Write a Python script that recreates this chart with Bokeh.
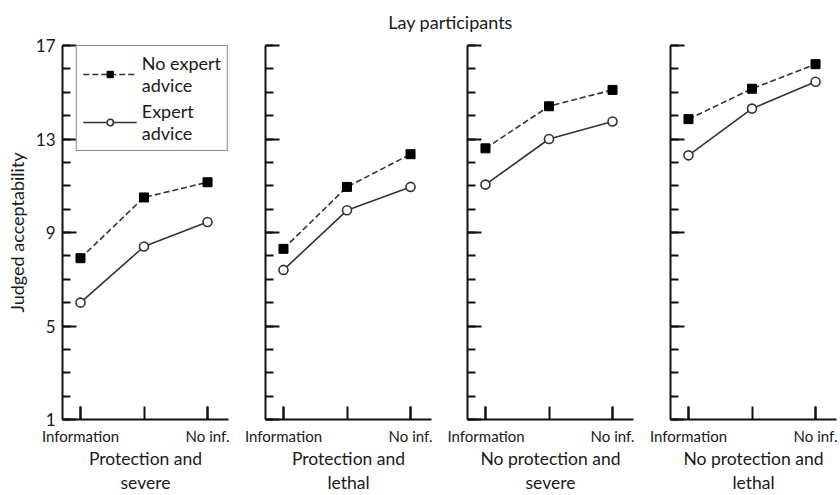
from bokeh.plotting import figure
from bokeh.layouts import row, column
from bokeh.models import (FixedTicker, Legend, LegendItem, Range1d, Title,
                          CustomLabelingPolicy)
from bokeh.embed import file_html
from bokeh.resources import INLINE

# ---- data ----
x_pos = [0, 1, 2]
x_label_ticks = [0, 2]
x_labels = {0: "Information", 2: "No inf."}
panel_names = ["Protection and\nsevere", "Protection and\nlethal",
               "No protection and\nsevere", "No protection and\nlethal"]
no_expert = [
    [7.9, 10.5, 11.15],
    [8.3, 10.95, 12.35],
    [12.6, 14.4, 15.1],
    [13.85, 15.15, 16.2],
]
expert = [
    [6.0, 8.4, 9.45],
    [7.4, 9.95, 10.95],
    [11.05, 13.0, 13.75],
    [12.3, 14.3, 15.45],
]
y_ticks = [1, 5, 9, 13, 17]
y_minor = list(range(1, 18))
title_text = "Lay participants"
y_label = "Judged acceptability"

FONT = "Lato"
TXT = "#1a1a1a"
AX = "#111111"

widths = [244, 203, 202, 189]
borders_left = [62, 21, 20, 21]
borders_right = [16, 16, 16, 2]

no_labels = CustomLabelingPolicy(code="""
    for (const i of indices) {
        indices.unset(i)
    }
    return indices
""")

figs = []
for i in range(4):
    p = figure(width=widths[i], height=463, output_backend="svg", toolbar_location=None,
               x_range=Range1d(-0.283, 2.33), y_range=Range1d(1, 17),
               min_border_left=borders_left[i], min_border_right=borders_right[i],
               min_border_top=13, min_border_bottom=60)
    p.grid.visible = False
    p.outline_line_color = None

    xa = p.xaxis[0]
    xa.ticker = FixedTicker(ticks=x_label_ticks, minor_ticks=x_pos)
    xa.major_label_overrides = x_labels
    xa.major_tick_in = 13
    xa.major_tick_out = 0
    xa.minor_tick_in = 13
    xa.minor_tick_out = 0
    xa.major_tick_line_width = 2
    xa.minor_tick_line_width = 2
    xa.axis_line_width = 2
    xa.axis_line_color = AX
    xa.major_tick_line_color = AX
    xa.minor_tick_line_color = AX
    xa.major_label_standoff = 7
    xa.major_label_text_font = FONT
    xa.major_label_text_font_size = "15px"
    xa.major_label_text_color = TXT
    xa.axis_label = panel_names[i]
    xa.axis_label_text_font = FONT
    xa.axis_label_text_font_size = "17.5px"
    xa.axis_label_text_font_style = "normal"
    xa.axis_label_text_color = TXT
    xa.axis_label_standoff = 0
    xa.axis_label_text_line_height = 1.15

    ya = p.yaxis[0]
    ya.ticker = FixedTicker(ticks=y_ticks, minor_ticks=y_minor)
    ya.major_tick_in = 14
    ya.major_tick_out = 0
    ya.minor_tick_in = 8
    ya.minor_tick_out = 0
    ya.major_tick_line_width = 2
    ya.minor_tick_line_width = 2
    ya.axis_line_width = 2
    ya.axis_line_color = AX
    ya.major_tick_line_color = AX
    ya.minor_tick_line_color = AX
    if i == 0:
        ya.major_label_text_font = FONT
        ya.major_label_text_font_size = "17px"
        ya.major_label_text_color = TXT
        ya.major_label_standoff = 7
        ya.axis_label = y_label
        ya.axis_label_text_font = FONT
        ya.axis_label_text_font_size = "18px"
        ya.axis_label_text_font_style = "normal"
        ya.axis_label_text_color = TXT
        ya.axis_label_standoff = 5
    else:
        ya.major_label_policy = no_labels
        ya.major_label_standoff = 0

    r1 = p.line(x_pos, no_expert[i], line_dash="6 3", line_color="#333333", line_width=1.6)
    r2 = p.scatter(x_pos, no_expert[i], marker="square", size=9,
                   fill_color="black", line_color="black")
    r3 = p.line(x_pos, expert[i], line_color="#333333", line_width=1.6)
    r4 = p.scatter(x_pos, expert[i], marker="circle", size=9,
                   fill_color="white", line_color="#333333", line_width=1.6)

    if i == 0:
        legend = Legend(items=[
            LegendItem(label="No expert\nadvice", renderers=[r1, r2]),
            LegendItem(label="Expert\nadvice", renderers=[r3, r4]),
        ], location="top_right")
        legend.margin = 0
        legend.padding = 6
        legend.spacing = 4
        legend.glyph_width = 54
        legend.glyph_height = 16
        legend.label_standoff = 5
        legend.label_text_font = FONT
        legend.label_text_font_size = "18px"
        legend.label_text_color = TXT
        legend.label_text_line_height = 1.15
        legend.border_line_color = AX
        legend.border_line_width = 1.5
        legend.background_fill_alpha = 1
        p.add_layout(legend, "center")
    figs.append(p)

# title strip: a figure whose only visible element is its title (placed below)
t = figure(width=838, height=32, output_backend="svg", toolbar_location=None,
           x_range=Range1d(0, 1), y_range=Range1d(0, 1), title=None,
           min_border_left=62, min_border_right=0, min_border_top=0,
           min_border_bottom=0)
t.axis.visible = False
t.grid.visible = False
t.outline_line_color = None
t.add_layout(Title(text=title_text, align="center", standoff=0, text_font=FONT,
                   text_font_size="18px", text_font_style="normal",
                   text_color=TXT), "below")

layout = column(t, row(*figs, spacing=0), spacing=0)

with open("out.html", "w") as f:
    f.write(file_html(layout, INLINE))
